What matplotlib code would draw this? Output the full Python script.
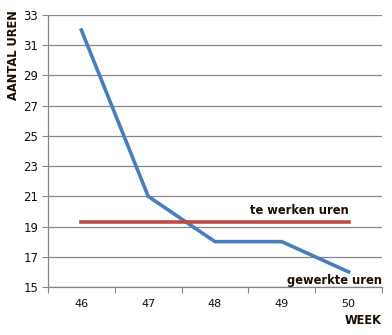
import matplotlib.pyplot as plt

weeks = ["46", "47", "48", "49", "50"]
gewerkt = [32, 21, 18, 18, 16]
te_werken = [19.3, 19.3, 19.3, 19.3, 19.3]

BLUE = "#4a7ebb"
RED = "#be4b48"
GRID = "#868686"
TEXT = "#1a0d00"


def main():
    fig = plt.figure(figsize=(3.92, 3.35), dpi=100)
    ax = fig.add_axes([0.1224, 0.1433, 0.8521, 0.8119])
    x = list(range(len(weeks)))

    ax.plot(x, gewerkt, color=BLUE, lw=2.6, solid_joinstyle="miter")
    ax.plot(x, te_werken, color=RED, lw=2.6)

    ax.set_xlim(-0.5, len(weeks) - 0.5)
    ax.set_ylim(15, 33)
    ax.set_yticks(range(15, 34, 2))
    ax.set_xticks([i - 0.5 for i in range(len(weeks) + 1)])
    ax.set_xticklabels([])
    ax.set_xticks(x, minor=True)
    ax.set_xticklabels(weeks, minor=True)
    ax.tick_params(axis="x", which="minor", length=0, pad=9, labelsize=8, labelcolor=TEXT)
    ax.tick_params(axis="x", which="major", length=4, color=GRID, direction="out")
    ax.tick_params(axis="y", length=4, color=GRID, labelsize=8.5, labelcolor=TEXT, pad=3)

    ax.grid(axis="y", color=GRID, lw=0.9)
    ax.set_axisbelow(True)
    for s in ["top", "right"]:
        ax.spines[s].set_visible(False)
    for s in ["left", "bottom"]:
        ax.spines[s].set_color(GRID)
        ax.spines[s].set_linewidth(0.9)

    ax.text(len(weeks) - 1, te_werken[-1] + 0.35, "te werken uren", ha="right", va="bottom",
            fontsize=8.3, fontweight="bold", color=TEXT)
    ax.text(len(weeks) - 0.5, gewerkt[-1] - 0.15, "gewerkte uren", ha="right", va="top",
            fontsize=8.3, fontweight="bold", color=TEXT)

    fig.text(0.9745, 0.025, "WEEK", ha="right", va="bottom", fontsize=8.3,
             fontweight="bold", color=TEXT)
    fig.text(0.035, 0.835, "AANTAL UREN", ha="center", va="center", rotation=90,
             fontsize=8.3, fontweight="bold", color=TEXT)

    fig.savefig("out.png", dpi=100)


if __name__ == "__main__":
    main()
